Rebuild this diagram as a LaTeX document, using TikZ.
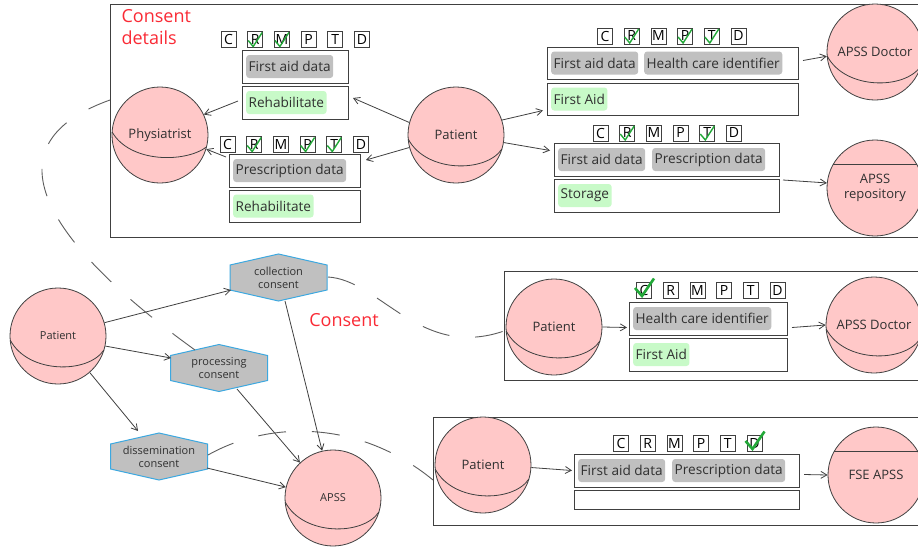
\documentclass[tikz,border=0pt]{standalone}
\usepackage{fontspec}
\setmainfont{Open Sans}
\usetikzlibrary{arrows.meta,calc}
\definecolor{pinkc}{HTML}{FFC8C8}
\definecolor{grayl}{HTML}{C0C0C0}
\definecolor{greenl}{HTML}{C8FAC8}
\definecolor{hexb}{HTML}{3CA8E0}
\definecolor{redt}{HTML}{FA2A35}
\definecolor{txt}{HTML}{303030}
\definecolor{chkc}{HTML}{22A838}
\definecolor{edge}{HTML}{404040}
\newcommand{\eqline}[1]{\draw[eq] ($(#1.center)+(-47.8,4)$) .. controls ($(#1.center)+(-30,38)$) and ($(#1.center)+(30,38)$) .. ($(#1.center)+(45.9,14)$);}
\newcommand{\chordline}[1]{\draw[eq] ($(#1.center)+(-41.6,-24)$) -- ($(#1.center)+(41.6,-24)$);}
\newcommand{\lrow}[3]{\foreach \L [count=\i from 0] in {C,R,M,P,T,D} {\node[lbox] (#1\L) at ({#2+\i*26.7},#3) {\L};}}
\newcommand{\chk}[1]{\draw[chk] ($(#1.center)+(-7,1)$) -- ($(#1.center)+(-2,7)$) -- ($(#1.center)+(7,-7)$);}
\newcommand{\bigchk}[1]{\draw[bchk] ($(#1.center)+(-9,-2.5)$) -- ($(#1.center)+(-2,5.5)$) -- ($(#1.center)+(10,-12)$);}
\newcommand{\hexa}[4]{\path[hexs] (#2-48.5,#3-12.5) -- (#2,#3-23.5) -- (#2+48.5,#3-12.5) -- (#2+48.5,#3+12.5) -- (#2,#3+23.5) -- (#2-48.5,#3+12.5) -- cycle; \node[hexn] (#1) at (#2,#3) {#4};}
\begin{document}
\begin{tikzpicture}[x=1pt,y=-1pt,
  every node/.style={text=txt},
  sph/.style={circle,draw=edge,fill=pinkc,minimum size=96pt,inner sep=0pt,line width=0.8pt,font=\fontsize{13}{15}\selectfont,align=center},
  sphs/.style={sph,font=\fontsize{11}{13}\selectfont},
  eq/.style={draw=edge,line width=0.8pt},
  dbox/.style={draw=edge,line width=1pt,anchor=north west,inner sep=0pt},
  glab/.style={fill=grayl,rounded corners=3pt,anchor=west,minimum height=23pt,inner xsep=2.5pt,inner ysep=0pt,font=\fontsize{13.6}{16}\selectfont},
  nlab/.style={glab,fill=greenl},
  lbox/.style={draw=edge,line width=0.8pt,minimum width=15pt,minimum height=16pt,inner sep=0pt,font=\fontsize{14}{16}\selectfont,text=black},
  chk/.style={draw=chkc,line width=1.4pt},
  bchk/.style={draw=chkc,line width=2.6pt},
  arr/.style={draw=edge,line width=0.8pt,-{Straight Barb[length=6pt,width=7pt]}},
  dsh/.style={draw=edge!85,line width=0.9pt,dash pattern=on 28pt off 26pt},
  hexn/.style={minimum width=97pt,minimum height=47pt,inner sep=0pt,font=\fontsize{11}{13}\selectfont,align=center},
  hexs/.style={fill=grayl,draw=hexb,line width=1pt},
  redl/.style={text=redt,font=\fontsize{18}{22}\selectfont,align=left}
]
\path[use as bounding box] (0,0) rectangle (918,549);
\clip (0,0) rectangle (918,549);
\fill[white] (0,0) rectangle (918,549);

% ---------- frames ----------
\node[dbox,minimum width=830pt,minimum height=233pt] (topbox) at (110,4) {};
\node[dbox,minimum width=430pt,minimum height=109pt] (cbox) at (504,271) {};
\node[dbox,minimum width=500pt,minimum height=108pt] (bbox) at (433,417) {};

\node[redl,anchor=north west] (cdet) at (118,6) {Consent\\details};
\node[redl] (cons) at (344,320) {Consent};

% ---------- top section ----------
\node[sph] (phys) at (160,135) {Physiatrist};
\draw[eq] ($(phys.center)+(-47.9,-3)$) .. controls ($(phys.center)+(-30,28)$) and ($(phys.center)+(25,28)$) .. ($(phys.center)+(46.5,12)$);
\node[sph] (pt1) at (456,135) {Patient};
\eqline{pt1}
\node[sph] (doc1) at (875,52) {APSS Doctor};
\eqline{doc1}
\node[sph] (repo) at (875,188) {APSS\\repository};
\chordline{repo}

\lrow{ra}{228.5}{39.5}
\chk{raR}\chk{raM}
\node[dbox,minimum width=106pt,minimum height=33pt] (A1) at (242,50) {};
\node[glab] (A1a) at (246,66.5) {First aid data};
\node[dbox,minimum width=106pt,minimum height=33pt] (A2) at (242,86) {};
\node[nlab] (A2a) at (246,102.5) {Rehabilitate};

\lrow{rb}{227.5}{144.5}
\chk{rbR}\chk{rbP}\chk{rbT}
\node[dbox,minimum width=131pt,minimum height=33pt] (B1) at (229,154) {};
\node[glab] (B1a) at (233,170.5) {Prescription data};
\node[dbox,minimum width=131pt,minimum height=32pt] (B2) at (229,190) {};
\node[nlab] (B2a) at (233,206) {Rehabilitate};

\lrow{rc}{605}{36}
\chk{rcR}\chk{rcP}\chk{rcT}
\node[dbox,minimum width=251pt,minimum height=32pt] (C1) at (547,47) {};
\node[glab] (C1a) at (551,63) {First aid data};
\node[glab] (C1b) at (644,63) {Health care identifier};
\node[dbox,minimum width=251pt,minimum height=32pt] (C2) at (547,83) {};
\node[nlab] (C2a) at (551,99) {First Aid};

\lrow{rd}{600.5}{133}
\chk{rdR}\chk{rdT}
\node[dbox,minimum width=225pt,minimum height=33pt] (D1) at (554,143) {};
\node[glab] (D1a) at (558,159.5) {First aid data};
\node[glab] (D1b) at (652,159.5) {Prescription data};
\node[dbox,minimum width=225pt,minimum height=33pt] (D2) at (554,179) {};
\node[nlab] (D2a) at (558,195.5) {Storage};

\draw[arr] (pt1.165) -- ($(A2.east)+(4,-5)$);
\draw[arr] (pt1.195) -- ($(B1.north east)+(5,6)$);
\draw[arr] ($(A2.west)+(-4,-2)$) -- (phys.25);
\draw[arr] ($(B1.north west)+(-3,3)$) -- (phys.-17);
\draw[arr] (pt1.18) -- ($(C2.west)+(-4,11)$);
\draw[arr] (pt1.-9) -- ($(D1.west)+(-4,-9.5)$);
\draw[arr] ($(C1.east)+(4,-3)$) -- (doc1.185);
\draw[arr] ($(D1.south east)+(3,3)$) -- (repo.174);

% ---------- middle consent box ----------
\node[sph] (pt3) at (554,327) {Patient};
\eqline{pt3}
\node[sph] (doc2) at (874,325) {APSS Doctor};
\eqline{doc2}
\lrow{re}{644}{290.5}
\node[dbox,minimum width=158pt,minimum height=33pt] (E1) at (629,302) {};
\node[glab] (E1a) at (633,318.5) {Health care identifier};
\node[dbox,minimum width=158pt,minimum height=33pt] (E2) at (629,338) {};
\node[nlab] (E2a) at (633,354.5) {First Aid};
\bigchk{reC}
\draw[arr] (pt3.east) -- ($(E1.west)+(-2,8.5)$);
\draw[arr] ($(E1.east)+(4,8.5)$) -- (doc2.180);

% ---------- bottom box ----------
\node[sph] (pt4) at (483,465) {Patient};
\eqline{pt4}
\node[sph] (fse) at (876,475) {FSE APSS};
\chordline{fse}
\lrow{rf}{621}{443.5}
\node[dbox,minimum width=225pt,minimum height=33pt] (F1) at (574,454) {};
\node[glab] (F1a) at (578,470.5) {First aid data};
\node[glab] (F1b) at (672,470.5) {Prescription data};
\node[dbox,minimum width=225pt,minimum height=19pt] (F2) at (574,490) {};
\bigchk{rfD}
\draw[arr] (pt4.-3) -- ($(F1.west)+(-2,-0.5)$);
\draw[arr] ($(F1.east)+(4,3.5)$) -- (fse.180);

% ---------- left consent graph ----------
\node[sphs] (pt5) at (58,336) {Patient};
\eqline{pt5}
\node[sphs] (apss) at (333,498) {APSS};
\eqline{apss}
\hexa{coll}{278.5}{277.5}{collection\\consent}
\hexa{proc}{219}{368}{processing\\consent}
\hexa{diss}{159}{456.5}{dissemination\\consent}

\draw[arr] (pt5.16) -- ($(coll.center)+(-47.5,12.5)$);
\draw[arr] (pt5.-12) -- ($(proc.center)+(-48,-10)$);
\draw[arr] (pt5.-49) -- ($(diss.center)+(-21,-25.5)$);
\draw[arr] ($(coll.center)+(6.5,23.5)$) -- (apss.103.5);
\draw[arr] ($(proc.center)+(18,21)$) -- (apss.133);
\draw[arr] ($(diss.center)+(48,11.5)$) -- (apss.167);

% ---------- dashed connectors ----------
\draw[dsh] ($(proc.center)+(-24,-18)$) .. controls (70,260) and (-30,150) .. ($(topbox.north west)+(0,96)$);
\draw[dsh] ($(coll.center)+(49.5,-0.5)$) .. controls (380,280) and (420,360) .. ($(cbox.north west)+(0,60)$);
\draw[dsh] ($(diss.center)+(49,-1.5)$) .. controls (270,420) and (360,420) .. ($(bbox.north west)+(0,63)$);
\end{tikzpicture}
\end{document}
